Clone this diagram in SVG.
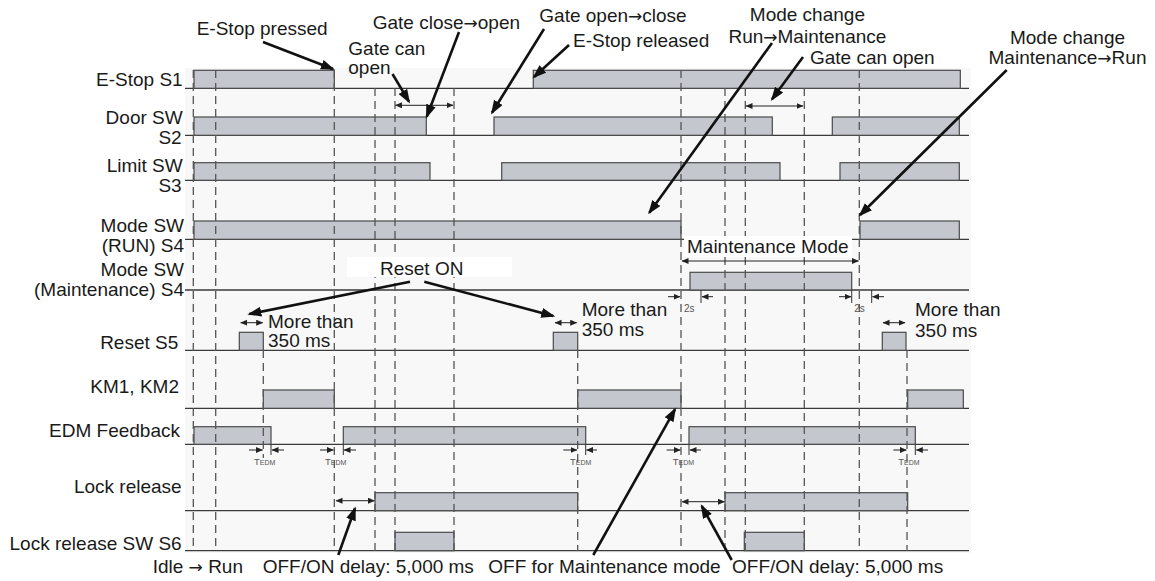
<svg xmlns="http://www.w3.org/2000/svg" width="1155" height="581" viewBox="0 0 1155 581">
<defs>
<marker id="ah" markerUnits="userSpaceOnUse" markerWidth="15" markerHeight="11" refX="12" refY="5" orient="auto"><path d="M0,0 L14,5 L0,10 z" fill="#111"/></marker>
<marker id="sh" markerUnits="userSpaceOnUse" markerWidth="8" markerHeight="7" refX="6.5" refY="3" orient="auto-start-reverse"><path d="M0,0 L7,3 L0,6 z" fill="#222"/></marker>
</defs>
<style>
text{font-family:"Liberation Sans",Arial,sans-serif;font-size:19px;fill:#1a1a1a}
.lbl{text-anchor:end}
.mid{text-anchor:middle}
.arr{font-family:"DejaVu Sans",sans-serif;font-size:17px}
.base{stroke:#3a3a3a;stroke-width:1.3;fill:none}
.bar{fill:#c4c7cd;stroke:#4a4a4a;stroke-width:1.2}
.dash{stroke:#555;stroke-width:1.3;stroke-dasharray:8 5;fill:none}
.big{stroke:#111;stroke-width:2.6;fill:none;marker-end:url(#ah)}
.thin{stroke:#222;stroke-width:1;fill:none}
.dbl{marker-start:url(#sh);marker-end:url(#sh)}
.one{marker-end:url(#sh)}
.tick{stroke:#333;stroke-width:1;fill:none}
.small{font-size:10px;fill:#555}
.tedm{font-size:9.5px;fill:#555}
</style>
<rect x="185" y="68" width="786" height="485" fill="#f8f8f8"/>

<g id="sig-estop">
<text class="lbl" x="182.7" y="86">E-Stop S1</text>
<line class="base" x1="185" y1="88.3" x2="969" y2="88.3"/>
<rect class="bar" x="194" y="70.3" width="140.3" height="18"/>
<rect class="bar" x="533.3" y="70.3" width="427" height="18"/>
</g>
<g id="sig-door">
<text class="lbl" x="182.7" y="124">Door SW</text>
<text class="lbl" x="181.7" y="144">S2</text>
<line class="base" x1="185" y1="135.3" x2="969" y2="135.3"/>
<rect class="bar" x="194" y="117" width="232.3" height="18.3"/>
<rect class="bar" x="494" y="117" width="278.3" height="18.3"/>
<rect class="bar" x="832.3" y="117" width="127" height="18.3"/>
</g>
<g id="sig-limit">
<text class="lbl" x="182.7" y="171.7">Limit SW</text>
<text class="lbl" x="181.7" y="191.5">S3</text>
<line class="base" x1="185" y1="180.3" x2="969" y2="180.3"/>
<rect class="bar" x="194" y="162.7" width="236" height="17.6"/>
<rect class="bar" x="501.7" y="162.7" width="278.3" height="17.6"/>
<rect class="bar" x="840" y="162.7" width="119.3" height="17.6"/>
</g>
<g id="sig-moderun">
<text class="lbl" x="184" y="231.7">Mode SW</text>
<text class="lbl" x="184" y="251.5">(RUN) S4</text>
<line class="base" x1="185" y1="239.3" x2="969" y2="239.3"/>
<rect class="bar" x="194" y="221" width="487" height="18.3"/>
<rect class="bar" x="860" y="221" width="99.3" height="18.3"/>
</g>
<g id="sig-modemaint">
<text class="lbl" x="184" y="275.5">Mode SW</text>
<text class="lbl" x="184" y="296">(Maintenance) S4</text>
<line class="base" x1="185" y1="290" x2="969" y2="290"/>
<rect class="bar" x="690" y="272.3" width="161.7" height="17.7"/>
</g>
<g id="sig-reset">
<text class="lbl" x="178.3" y="349">Reset S5</text>
<line class="base" x1="185" y1="350.3" x2="969" y2="350.3"/>
<rect class="bar" x="239.3" y="332.3" width="24" height="18"/>
<rect class="bar" x="553.3" y="332.3" width="24.4" height="18"/>
<rect class="bar" x="882.3" y="332.3" width="23.7" height="18"/>
</g>
<g id="sig-km">
<text class="lbl" x="179" y="393">KM1, KM2</text>
<line class="base" x1="185" y1="408.3" x2="969" y2="408.3"/>
<rect class="bar" x="263.3" y="390" width="71" height="18.3"/>
<rect class="bar" x="577.7" y="390" width="103.3" height="18.3"/>
<rect class="bar" x="907.7" y="390" width="55.6" height="18.3"/>
</g>
<g id="sig-edm">
<text class="lbl" x="180" y="436.7">EDM Feedback</text>
<line class="base" x1="185" y1="444.3" x2="969" y2="444.3"/>
<rect class="bar" x="194" y="426.7" width="77" height="17.6"/>
<rect class="bar" x="343.3" y="426.7" width="242.4" height="17.6"/>
<rect class="bar" x="689" y="426.7" width="226.3" height="17.6"/>
</g>
<g id="sig-lock">
<text class="lbl" x="181.7" y="493">Lock release</text>
<line class="base" x1="185" y1="510.7" x2="969" y2="510.7"/>
<rect class="bar" x="375" y="492.7" width="202.7" height="18"/>
<rect class="bar" x="725" y="492.7" width="182.7" height="18"/>
</g>
<g id="sig-locksw">
<text class="lbl" x="181.7" y="550">Lock release SW S6</text>
<line class="base" x1="185" y1="550.7" x2="969" y2="550.7"/>
<rect class="bar" x="395" y="532.3" width="59" height="18.4"/>
<rect class="bar" x="744.3" y="532.3" width="60" height="18.4"/>
</g>

<g id="gridlines">
<line class="dash" x1="193.3" y1="70" x2="193.3" y2="551"/>
<line class="dash" x1="215.7" y1="70" x2="215.7" y2="551"/>
<line class="dash" x1="263.3" y1="350" x2="263.3" y2="458"/>
<line class="dash" x1="334.3" y1="70" x2="334.3" y2="551"/>
<line class="dash" x1="375" y1="88" x2="375" y2="551"/>
<line class="dash" x1="395" y1="88" x2="395" y2="551"/>
<line class="dash" x1="454" y1="88" x2="454" y2="551"/>
<line class="dash" x1="577.7" y1="350" x2="577.7" y2="551"/>
<line class="dash" x1="681" y1="70" x2="681" y2="551"/>
<line class="dash" x1="725" y1="88" x2="725" y2="551"/>
<line class="dash" x1="745.3" y1="88" x2="745.3" y2="551"/>
<line class="dash" x1="804.3" y1="88" x2="804.3" y2="551"/>
<line class="dash" x1="859.3" y1="70" x2="859.3" y2="551"/>
<line class="dash" x1="907" y1="350" x2="907" y2="551"/>
</g>

<g id="annotations">
<rect x="347" y="257" width="165" height="20" fill="#fff"/>
<text x="380" y="275">Reset ON</text>
<rect x="684" y="236" width="168" height="21" fill="#fff"/>
<text x="687" y="252.7">Maintenance Mode</text>
<line class="thin dbl" x1="682" y1="261" x2="858.5" y2="261"/>

<text x="196.7" y="35.3">E-Stop pressed</text>
<text x="372.7" y="28.6">Gate close<tspan class="arr">→</tspan>open</text>
<text x="348.3" y="54.5">Gate can</text>
<text x="348.3" y="73.5">open</text>
<text x="539.3" y="21.9">Gate open<tspan class="arr">→</tspan>close</text>
<text x="573" y="47">E-Stop released</text>
<text class="mid" x="807.4" y="20.5">Mode change</text>
<text class="mid" x="807.4" y="42.5">Run<tspan class="arr">→</tspan>Maintenance</text>
<text x="810" y="63.6">Gate can open</text>
<text class="mid" x="1067.5" y="44.3">Mode change</text>
<text class="mid" x="1067.5" y="63.8">Maintenance<tspan class="arr">→</tspan>Run</text>

<line class="thin dbl" x1="395.5" y1="105.3" x2="453" y2="105.3"/>
<line class="thin dbl" x1="746" y1="106" x2="803" y2="106"/>

<line class="thin dbl" x1="240.7" y1="322.7" x2="262.7" y2="322.7"/>
<line class="thin dbl" x1="555" y1="322.7" x2="576.7" y2="322.7"/>
<line class="thin dbl" x1="883" y1="322.7" x2="905" y2="322.7"/>
<text x="268" y="327.7">More than</text>
<text x="268" y="347.3">350 ms</text>
<text x="581.7" y="316">More than</text>
<text x="581.7" y="336">350 ms</text>
<text x="915" y="316">More than</text>
<text x="915" y="336.5">350 ms</text>

<line class="thin one" x1="668" y1="296.7" x2="680" y2="296.7"/>
<line class="tick" x1="701" y1="290" x2="701" y2="303"/>
<line class="thin one" x1="713" y1="296.7" x2="702" y2="296.7"/>
<text class="small" x="684" y="311.5">2s</text>
<line class="thin one" x1="839" y1="296.7" x2="851" y2="296.7"/>
<line class="tick" x1="851.7" y1="290" x2="851.7" y2="303"/>
<line class="tick" x1="871.7" y1="290" x2="871.7" y2="303"/>
<line class="thin one" x1="884" y1="296.7" x2="872.5" y2="296.7"/>
<text class="small" x="854.3" y="311.5">2s</text>

<line class="thin one" x1="249" y1="450" x2="262.5" y2="450"/>
<line class="tick" x1="271" y1="444" x2="271" y2="455"/>
<line class="thin one" x1="284" y1="450" x2="272" y2="450"/>
<text class="tedm" x="254" y="465">T<tspan font-size="7">EDM</tspan></text>
<line class="thin one" x1="320" y1="450" x2="333.5" y2="450"/>
<line class="tick" x1="343.3" y1="444" x2="343.3" y2="455"/>
<line class="thin one" x1="356" y1="450" x2="344" y2="450"/>
<text class="tedm" x="325" y="465">T<tspan font-size="7">EDM</tspan></text>
<line class="thin one" x1="563.3" y1="450" x2="577" y2="450"/>
<line class="tick" x1="585.7" y1="444" x2="585.7" y2="455"/>
<line class="thin one" x1="597" y1="450" x2="586.5" y2="450"/>
<text class="tedm" x="570" y="465">T<tspan font-size="7">EDM</tspan></text>
<line class="thin one" x1="666.7" y1="450" x2="680.3" y2="450"/>
<line class="tick" x1="689" y1="444" x2="689" y2="455"/>
<line class="thin one" x1="701" y1="450" x2="690" y2="450"/>
<text class="tedm" x="672.7" y="465">T<tspan font-size="7">EDM</tspan></text>
<line class="thin one" x1="893.3" y1="450" x2="906.3" y2="450"/>
<line class="tick" x1="915.3" y1="444" x2="915.3" y2="455"/>
<line class="thin one" x1="928" y1="450" x2="916.3" y2="450"/>
<text class="tedm" x="898.3" y="465">T<tspan font-size="7">EDM</tspan></text>

<line class="thin dbl" x1="336" y1="500.7" x2="374.5" y2="500.7"/>
<line class="thin dbl" x1="682" y1="501.7" x2="724.5" y2="501.7"/>

<text x="152.7" y="572.5">Idle <tspan class="arr">→</tspan> Run</text>
<text x="262.7" y="572.5">OFF/ON delay: 5,000 ms</text>
<text x="488.3" y="572.7">OFF for Maintenance mode</text>
<text x="732" y="572.7">OFF/ON delay: 5,000 ms</text>
</g>

<g id="connectors">
<line class="big" x1="263" y1="42" x2="333" y2="69"/>
<line class="big" x1="459" y1="32" x2="426.7" y2="116.7"/>
<line class="big" x1="392.5" y1="74" x2="409" y2="101.7"/>
<line class="big" x1="544" y1="29" x2="492" y2="112.7"/>
<line class="big" x1="569" y1="45" x2="534" y2="77"/>
<line class="big" x1="772" y1="43" x2="649.3" y2="212.7"/>
<line class="big" x1="803" y1="57" x2="772" y2="99.3"/>
<line class="big" x1="1006.7" y1="70" x2="860" y2="215"/>
<line class="big" x1="410" y1="281.7" x2="249.3" y2="314"/>
<line class="big" x1="424.3" y1="281.7" x2="553.3" y2="316"/>
<line class="big" x1="338.3" y1="555" x2="355" y2="508.3"/>
<line class="big" x1="593.3" y1="555" x2="675" y2="409.3"/>
<line class="big" x1="731.7" y1="560" x2="701.7" y2="506"/>
</g>
</svg>
